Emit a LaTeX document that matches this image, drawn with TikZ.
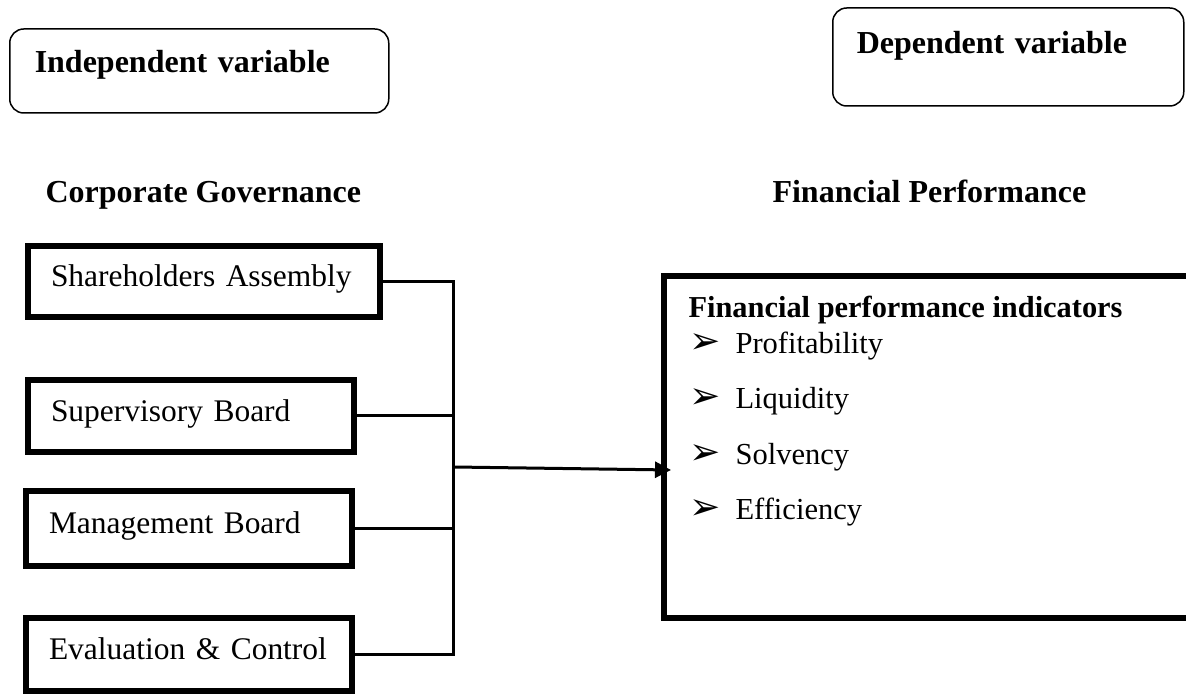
\documentclass[tikz,border=0pt]{standalone}
\usepackage{fontspec}
\setmainfont{Liberation Serif}
\newfontfamily\symfont{DejaVu Sans}
\usepackage{tikz}
\usetikzlibrary{positioning,arrows.meta}
\newlength\pxu
\setlength\pxu{0.375pt}
\newcommand\itembullet{\makebox[46\pxu][l]{\fontsize{14}{14}\selectfont\symfont\char"27A2}}
\tikzset{every node/.style={font=\fontsize{12}{14.4}\selectfont}}

\begin{document}
\begin{tikzpicture}[
x=0.375pt, y=-0.375pt,
varbox/.style={
draw,
rounded corners=14\pxu,
line width=1.5\pxu,
anchor=west,
align=left,
text height=0.7em,
font=\fontsize{12}{14.4}\selectfont\bfseries
},
govbox/.style={
draw,
line width=6\pxu,
anchor=west,
inner xsep=23\pxu,
text width=280\pxu,
align=left,
text height=0.7em,
text depth=0.3em,
font=\fontsize{11.8}{14}\selectfont
},
heading/.style={anchor=base west,inner sep=0pt,font=\fontsize{12}{14.4}\selectfont\bfseries},
item/.style={anchor=base west,inner sep=0pt,font=\fontsize{11.45}{14}\selectfont},
link/.style={line width=3\pxu},
arrow/.style={link,-{Triangle[length=6pt,width=6pt]}}
]
\useasboundingbox (0,0) rectangle (1186,696);

\node[varbox,inner xsep=25\pxu,text width=329\pxu,minimum height=84\pxu,
text depth=0.575em] (indep) at (9,71) {Independent variable};

\node[varbox,inner xsep=24\pxu,text width=303\pxu,minimum height=98\pxu,
text depth=0.95em] (dep) at (832,57) {Dependent variable};

\node[heading] (cg) at (45,203) {Corporate Governance};
\node[heading] (fp) at (772,203) {Financial Performance};

\node[govbox,text width=306\pxu,minimum height=71\pxu] (share) at (25,281.5)
{\mbox{Shareholders Assembly}};
\node[govbox,minimum height=72\pxu] (super) at (25,416) {\mbox{Supervisory Board}};
\node[govbox,minimum height=75\pxu] (manag) at (23,528.5) {\mbox{Management Board}};
\node[govbox,minimum height=73\pxu] (evalc) at (23,654.5) {\mbox{Evaluation \& Control}};

\node[draw,line width=6\pxu,minimum width=540\pxu,minimum height=342\pxu,
anchor=north west] (fpi) at (661,273) {};

\node[heading,font=\fontsize{11.4}{14}\selectfont\bfseries] (fpind) at (688,318)
{Financial performance indicators};
\node[item] (prof) at (689,354) {\itembullet Profitability};
\node[item,below=55\pxu of prof.base west,anchor=base west] (liq)
{\itembullet Liquidity};
\node[item,below=55.5\pxu of liq.base west,anchor=base west] (solv)
{\itembullet Solvency};
\node[item,below=55.5\pxu of solv.base west,anchor=base west] (effic)
{\itembullet Efficiency};

\coordinate (hub) at (453,467);
\coordinate (tip) at (671,470);

\draw[link] (share.east) -| (evalc.east -| hub) -- (evalc.east);
\draw[link] (super.east) -- (super.east -| hub);
\draw[link] (manag.east) -- (manag.east -| hub);
\draw[arrow] (hub) -- (tip);

\end{tikzpicture}
\end{document}
